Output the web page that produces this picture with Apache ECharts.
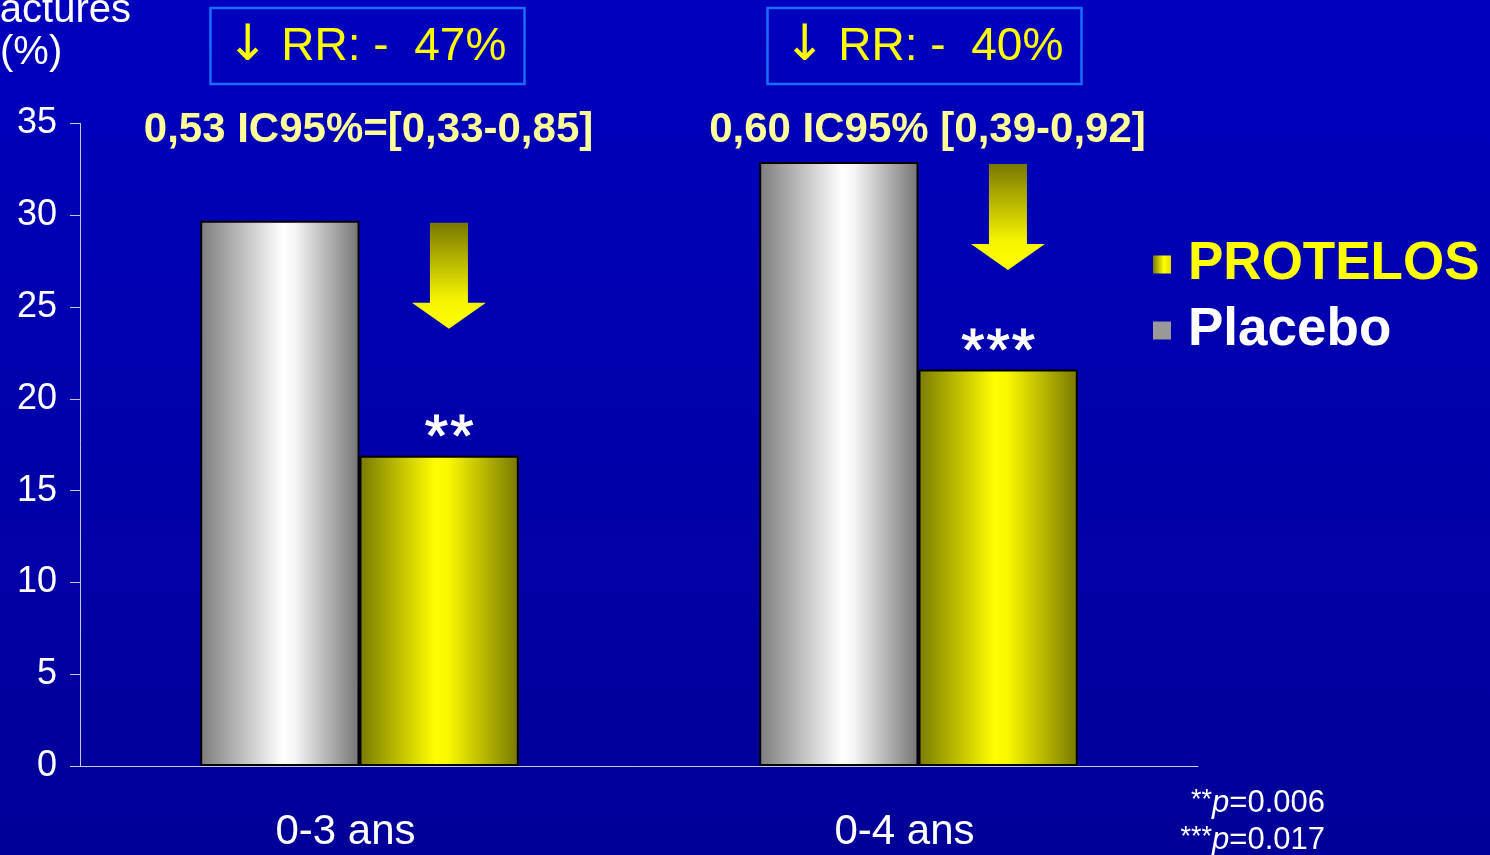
<!DOCTYPE html>
<html>
<head>
<meta charset="utf-8">
<script src="https://cdn.jsdelivr.net/npm/echarts@6/dist/echarts.min.js"></script>
<style>
html, body { margin: 0; padding: 0; background: #0000aa; }
#chart { width: 1490px; height: 855px; }
</style>
</head>
<body>
<div id="chart"></div>
<script>
// Vertebral fracture incidence (%) by follow-up period
const categories = ['0-3 ans', '0-4 ans'];
const placebo = [29.7, 32.9];
const protelos = [16.9, 21.6];
const significance = ['**', '***'];
const riskReduction = ['RR: -  47%', 'RR: -  40%'];
const confidence = ['0,53 IC95%=[0,33-0,85]', '0,60 IC95% [0,39-0,92]'];
const pValues = [['**', '=0.006'], ['***', '=0.017']];
const yMin = 0, yMax = 35, yStep = 5;

// horizontal nudge of each significance marker (px)
const markerShift = [10, 0];

const FONT = '"Liberation Sans", Arial, Helvetica, sans-serif';
const LG = echarts.graphic.LinearGradient;

const placeboFill = new LG(0, 0, 1, 0, [
  { offset: 0, color: '#7c7c7c' },
  { offset: 0.52, color: '#ffffff' },
  { offset: 0.6, color: '#f4f4f4' },
  { offset: 1, color: '#747474' }
]);
const protelosFill = new LG(0, 0, 1, 0, [
  { offset: 0, color: '#7a7a00' },
  { offset: 0.48, color: '#ffff00' },
  { offset: 0.56, color: '#f8f800' },
  { offset: 1, color: '#787800' }
]);
const arrowFill = new LG(0, 0, 0, 1, [
  { offset: 0, color: '#7a7800' },
  { offset: 0.72, color: '#f4f400' },
  { offset: 1, color: '#ffff00' }
]);

const legendShadow = {
  textShadowColor: '#000000',
  textShadowOffsetX: 3,
  textShadowOffsetY: 3,
  textShadowBlur: 0
};

const chart = echarts.init(document.getElementById('chart'), null, { renderer: 'canvas' });

const option = {
  animation: false,
  backgroundColor: new LG(0, 0, 0, 1, [
    { offset: 0, color: '#0000be' },
    { offset: 1, color: '#000098' }
  ]),
  grid: { left: 80, right: 292, top: 123.5, bottom: 89, containLabel: false },
  legend: {
    orient: 'vertical',
    left: 1148,
    top: 233,
    itemWidth: 18,
    itemHeight: 18,
    itemGap: 13,
    icon: 'rect',
    selectedMode: false,
    textStyle: Object.assign({
      fontFamily: FONT,
      fontSize: 53,
      fontWeight: 'bold',
      padding: [0, 0, 0, 12]
    }, legendShadow),
    data: [
      {
        name: 'PROTELOS',
        itemStyle: {
          color: new LG(0, 0, 1, 0, [{ offset: 0, color: '#7a7a00' }, { offset: 0.6, color: '#ffff00' }, { offset: 1, color: '#e0e000' }]),
          borderWidth: 0
        },
        textStyle: Object.assign({ color: '#ffff00' }, legendShadow)
      },
      {
        name: 'Placebo',
        itemStyle: { color: '#999999', borderWidth: 0 },
        textStyle: Object.assign({ color: '#ffffff' }, legendShadow)
      }
    ]
  },
  xAxis: {
    type: 'category',
    data: categories,
    axisLine: { lineStyle: { color: '#c8c8e6', width: 1 } },
    axisTick: { show: false },
    axisLabel: {
      color: '#ffffff',
      fontFamily: FONT,
      fontSize: 42,
      margin: 45,
      padding: [0, 28, 0, 0]
    }
  },
  yAxis: {
    type: 'value',
    min: yMin,
    max: yMax,
    interval: yStep,
    splitLine: { show: false },
    axisLine: { show: true, lineStyle: { color: '#c8c8e6', width: 1 } },
    axisTick: { show: true, length: 10, lineStyle: { color: '#c8c8e6' } },
    axisLabel: { color: '#ffffff', fontFamily: FONT, fontSize: 36, margin: 23, padding: [4, 0, 0, 0] }
  },
  series: [
    {
      name: 'Placebo',
      type: 'bar',
      data: placebo,
      barGap: '0%',
      barCategoryGap: '43%',
      itemStyle: { color: placeboFill, borderColor: '#000000', borderWidth: 2 }
    },
    {
      name: 'PROTELOS',
      type: 'bar',
      data: protelos.map((v, i) => ({ value: v, label: { offset: [markerShift[i], 0] } })),
      itemStyle: { color: protelosFill, borderColor: '#000000', borderWidth: 2 },
      label: {
        show: true,
        position: 'top',
        distance: -14,
        // each star as its own token so the marks sit slightly apart
        formatter: p => significance[p.dataIndex].split('').map(ch => '{s|' + ch + '}').join(''),
        rich: {
          s: {
            color: '#ffffff',
            fontFamily: FONT,
            fontSize: 60,
            textBorderColor: '#ffffff',
            textBorderWidth: 1,
            padding: [0, 1, 0, 1]
          }
        }
      }
    },
    {
      // downward arrows from the placebo level toward the treated bar
      type: 'custom',
      silent: true,
      z: 5,
      data: placebo.map((v, i) => [i, v]),
      renderItem(params, api) {
        const top = api.coord([api.value(0), api.value(1)]);
        const band = api.size([1, 0])[0];
        const cx = top[0] + band * 0.16;
        const y0 = top[1] + 2;
        const sw = 19, hw = 37, sh = 80, hh = 26;
        return {
          type: 'polygon',
          shape: {
            points: [
              [cx - sw, y0], [cx + sw, y0], [cx + sw, y0 + sh], [cx + hw, y0 + sh],
              [cx, y0 + sh + hh], [cx - hw, y0 + sh], [cx - sw, y0 + sh]
            ]
          },
          style: { fill: arrowFill }
        };
      }
    }
  ]
};

chart.setOption(option);

// Header annotations placed over each category
const graphics = [
  {
    type: 'text', x: 131, y: 11,
    style: { text: 'Fractures', fill: '#ffffff', font: '40px ' + FONT, align: 'right', verticalAlign: 'middle' }
  },
  {
    type: 'text', x: 0, y: 53,
    style: { text: '(%)', fill: '#ffffff', font: '40px ' + FONT, align: 'left', verticalAlign: 'middle' }
  }
];

categories.forEach((c, i) => {
  const cx = chart.convertToPixel({ xAxisIndex: 0 }, i);
  graphics.push({
    type: 'rect',
    shape: { x: cx + 8 - i * 2 - 157, y: 8, width: 314, height: 76 },
    style: { fill: 'none', stroke: '#1a6cff', lineWidth: 2.5 }
  });
  graphics.push({
    type: 'text', x: cx + 7 - i * 2, y: 47,
    style: {
      text: '{arr|\u2193}{t| ' + riskReduction[i] + '}',
      align: 'center',
      verticalAlign: 'middle',
      rich: {
        arr: { fill: '#ffff00', fontFamily: '"DejaVu Sans", sans-serif', fontSize: 50, lineHeight: 56 },
        t: { fill: '#ffff00', fontFamily: FONT, fontSize: 46, lineHeight: 56 }
      }
    }
  });
  graphics.push({
    type: 'text', x: cx + 9, y: 130,
    style: { text: confidence[i], fill: '#ffff99', font: 'bold 42px ' + FONT, align: 'center', verticalAlign: 'middle' }
  });
});

pValues.forEach((pv, i) => {
  graphics.push({
    type: 'text', x: 1325, y: 803 + i * 37,
    style: {
      text: '{a|' + pv[0] + '}{p|p}{b|' + pv[1] + '}',
      align: 'right',
      verticalAlign: 'middle',
      rich: {
        a: { fill: '#ffffff', fontFamily: FONT, fontSize: 27, verticalAlign: 'top', lineHeight: 32 },
        p: { fill: '#ffffff', fontFamily: FONT, fontSize: 31, fontStyle: 'italic', lineHeight: 32 },
        b: { fill: '#ffffff', fontFamily: FONT, fontSize: 31, lineHeight: 32 }
      }
    }
  });
});

chart.setOption({ graphic: graphics });
</script>
</body>
</html>
